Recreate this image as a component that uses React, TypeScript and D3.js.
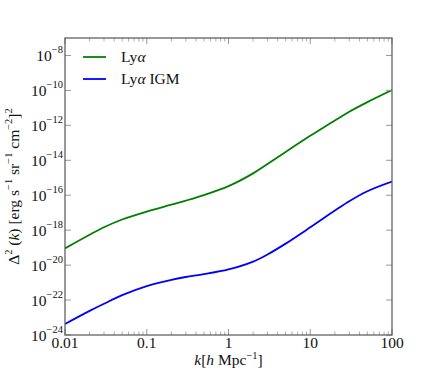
import React from 'react';
import * as d3 from 'd3';

// wavenumbers k [h/Mpc]
const kValues = [0.01, 0.02, 0.03, 0.05, 0.1, 0.2, 0.3, 0.5, 1, 2, 3, 5, 10, 20, 30, 50, 100];
// Lya total power
const lyaValues = [9.12e-20, 5.5e-19, 1.48e-18, 4.07e-18, 1.17e-17, 2.88e-17, 4.9e-17, 1.02e-16, 3.31e-16, 1.78e-15, 6.17e-15, 3.02e-14, 2.51e-13, 1.91e-12, 6.03e-12, 2.14e-11, 1.05e-10];
// Lya IGM power
const igmValues = [4.27e-24, 2.4e-23, 6.17e-23, 1.91e-22, 6.31e-22, 1.45e-21, 2.09e-21, 3.02e-21, 5.62e-21, 1.58e-20, 4.07e-20, 1.7e-19, 1.45e-18, 1.32e-17, 4.57e-17, 1.7e-16, 6.03e-16];

const xTickValues = [0.01, 0.1, 1, 10, 100];
const xTickLabels = ['0.01', '0.1', '1', '10', '100'];
const yTickExponents = [-24, -22, -20, -18, -16, -14, -12, -10, -8];

const seriesNames = ['Ly', 'Ly'];
const seriesSuffix = ['', ' IGM'];
const seriesColors = ['#008000', '#0000ff'];

const W = 436;
const H = 382;
const margin = { top: 38, right: 44, bottom: 47, left: 65 };
const FONT = '"Liberation Serif", "DejaVu Serif", serif';

const App = () => {
  const left = margin.left;
  const right = W - margin.right;
  const top = margin.top;
  const bottom = H - margin.bottom;

  const x = d3.scaleLog().domain([0.01, 100]).range([left, right]);
  const y = d3.scaleLog().domain([1e-24, 1e-7]).range([bottom, top]);

  const line = d3
    .line<number>()
    .x((d, i) => x(kValues[i]))
    .y((d) => y(d))
    .curve(d3.curveCatmullRom.alpha(0.5));

  // minor ticks on x (2..9 per decade)
  const minorX: number[] = [];
  for (let e = -2; e < 2; e++) {
    for (let m = 2; m <= 9; m++) minorX.push(m * Math.pow(10, e));
  }

  const spine = '#555';
  const tickCol = '#999';
  const majorLen = 6;
  const minorLen = 3.5;

  return (
    <svg
      width={W}
      height={H}
      style={{ position: 'absolute', left: 0, top: 0, background: '#fff' }}
      fontFamily={FONT}
    >
      <defs>
        <clipPath id="plot-clip">
          <rect x={left} y={top} width={right - left} height={bottom - top} />
        </clipPath>
      </defs>

      {/* curves */}
      <g clipPath="url(#plot-clip)">
        <path d={line(lyaValues) || ''} fill="none" stroke={seriesColors[0]} strokeWidth={1.8} />
        <path d={line(igmValues) || ''} fill="none" stroke={seriesColors[1]} strokeWidth={1.8} />
      </g>

      {/* x ticks, bottom and top, pointing inward */}
      {xTickValues.map((v) => (
        <g key={'xm' + v} stroke={tickCol} strokeWidth={1}>
          <line x1={x(v)} x2={x(v)} y1={bottom} y2={bottom - majorLen} />
          <line x1={x(v)} x2={x(v)} y1={top} y2={top + majorLen} />
        </g>
      ))}
      {minorX.map((v) => (
        <g key={'xn' + v} stroke={tickCol} strokeWidth={0.8}>
          <line x1={x(v)} x2={x(v)} y1={bottom} y2={bottom - minorLen} />
          <line x1={x(v)} x2={x(v)} y1={top} y2={top + minorLen} />
        </g>
      ))}

      {/* y ticks, left and right */}
      {yTickExponents.map((e) => (
        <g key={'ym' + e} stroke={tickCol} strokeWidth={1}>
          <line x1={left} x2={left + majorLen} y1={y(Math.pow(10, e))} y2={y(Math.pow(10, e))} />
          <line x1={right} x2={right - majorLen} y1={y(Math.pow(10, e))} y2={y(Math.pow(10, e))} />
        </g>
      ))}

      {/* frame */}
      <rect x={left} y={top} width={right - left} height={bottom - top} fill="none" stroke={spine} strokeWidth={1.2} />

      {/* x tick labels */}
      {xTickValues.map((v, i) => (
        <text key={'xl' + v} x={x(v)} y={bottom + 13} textAnchor="middle" fontSize={15.5} fill="#111">
          {xTickLabels[i]}
        </text>
      ))}

      {/* y tick labels */}
      {yTickExponents.map((e) => (
        <text key={'yl' + e} x={left - 2} y={y(Math.pow(10, e)) + 6} textAnchor="end" fontSize={15.5} fill="#111">
          10
          <tspan dy={-8} fontSize={10.5}>
            {'\u2212' + Math.abs(e)}
          </tspan>
        </text>
      ))}

      {/* x axis label */}
      <text x={(left + right) / 2} y={365} textAnchor="middle" fontSize={15.5} fill="#111">
        <tspan fontStyle="italic">k</tspan>[<tspan fontStyle="italic">h</tspan> Mpc
        <tspan dy={-6} fontSize={10.5}>{'\u22121'}</tspan>
        <tspan dy={6}>]</tspan>
      </text>

      {/* y axis label */}
      <text
        transform={`translate(19,${(top + bottom) / 2}) rotate(-90)`}
        textAnchor="middle"
        fontSize={15.5}
        fill="#111"
      >
        Δ<tspan dy={-7} fontSize={10.5}>2</tspan>
        <tspan dy={7}> (</tspan>
        <tspan fontStyle="italic">k</tspan>) [erg s
        <tspan dy={-7} fontSize={10.5}>{'\u22121'}</tspan>
        <tspan dy={7}> sr</tspan>
        <tspan dy={-7} fontSize={10.5}>{'\u22121'}</tspan>
        <tspan dy={7}> cm</tspan>
        <tspan dy={-7} fontSize={10.5}>{'\u22122'}</tspan>
        <tspan dy={7}>]</tspan>
        <tspan dy={-7} fontSize={10.5}>2</tspan>
      </text>

      {/* legend */}
      {seriesNames.map((name, i) => (
        <g key={'lg' + i}>
          <line x1={83} x2={106} y1={57 + i * 22} y2={57 + i * 22} stroke={seriesColors[i]} strokeWidth={1.8} />
          <text x={121} y={62 + i * 22} fontSize={15.5} fill="#111">
            {name}
            <tspan fontStyle="italic">α</tspan>
            {seriesSuffix[i]}
          </text>
        </g>
      ))}
    </svg>
  );
};

export default App;
